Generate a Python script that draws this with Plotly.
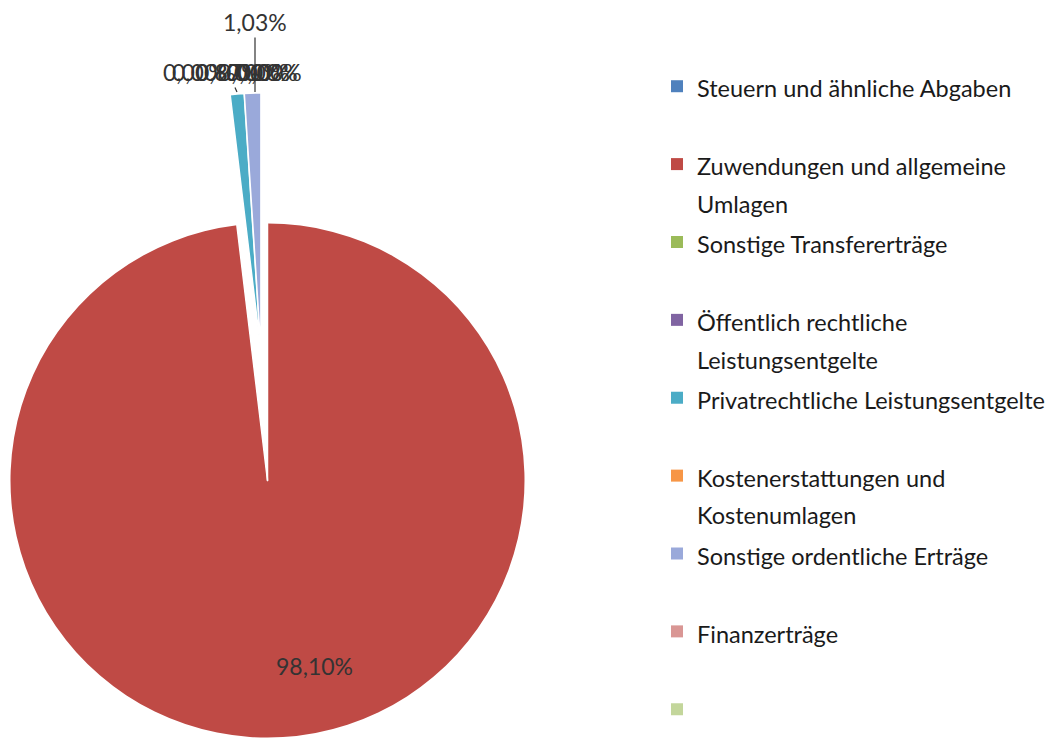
import plotly.graph_objects as go

W, H = 1054, 740

# ---- data ----
categories = [
    "Steuern und ähnliche Abgaben",
    "Zuwendungen und allgemeine Umlagen",
    "Sonstige Transfererträge",
    "Öffentlich rechtliche Leistungsentgelte",
    "Privatrechtliche Leistungsentgelte",
    "Kostenerstattungen und Kostenumlagen",
    "Sonstige ordentliche Erträge",
    "Finanzerträge",
    "",
]
shares = [0.00, 98.10, 0.00, 0.00, 0.87, 0.00, 1.03, 0.00, 0.00]

# ---- styles ----
colors = ["#4F81BD", "#BF4A45", "#9BBB59", "#8064A2", "#4BACC6",
          "#F79646", "#9AA9DA", "#D99694", "#C3D69B"]
exploded = [i for i, v in enumerate(shares) if 0 < v < 50]

FONT = "Lato"
TXT = 23.5           # legend glyph size
LBL = 23             # data label size
BASE = 28.8          # legend base size -> line pitch
line_breaks = {1: 3, 3: 2, 5: 2}   # break after n words


def px2paper_x(x):
    return x / W


def px2paper_y(y):
    return 1 - y / H


def span(t):
    return f"<span style='font-size:{TXT}px'>{t}</span>"


def legend_label(i):
    name = categories[i] if categories[i] else "\u00a0"
    words = name.split(" ")
    if i in line_breaks:
        k = line_breaks[i]
        lines = [" ".join(words[:k]), " ".join(words[k:])]
    elif i == len(categories) - 1:
        lines = [name]
    else:
        lines = [name, "\u00a0" * (i + 1)]
    return "<br>".join(span(l) for l in lines)


labels = [legend_label(i) for i in range(len(categories))]
total = sum(shares)
pct_text = [f"{v / total * 100:.2f}%".replace(".", ",") for v in shares]

# main pie geometry (pixels)
cx, cy, r = 267.5, 480.5, 257.0
main_dom_x = [px2paper_x(cx - r), px2paper_x(cx + r)]
main_dom_y = [px2paper_y(cy + r), px2paper_y(cy - r)]

# exploded slices layer
p3 = 0.01
ex_cx, ex_top = 261.0, 93.0
half = r * (1 + p3)
ex_cy = ex_top + half
ex_dom_x = [px2paper_x(ex_cx - half), px2paper_x(ex_cx + half)]
ex_dom_y = [px2paper_y(ex_cy + half), px2paper_y(ex_cy - half)]

clear = "rgba(0,0,0,0)"

fig = go.Figure()
# 1) main pie with true colours (drives the legend)
fig.add_trace(go.Pie(
    labels=labels, values=shares, sort=False, direction="clockwise",
    rotation=0, domain=dict(x=main_dom_x, y=main_dom_y),
    marker=dict(colors=colors, line=dict(width=0)),
    textinfo="none", hoverinfo="skip", showlegend=True,
))
# 2) mask: leaves the gap where exploded slices were
fig.add_trace(go.Pie(
    labels=labels, values=shares, sort=False, direction="clockwise",
    rotation=0, domain=dict(x=main_dom_x, y=main_dom_y),
    marker=dict(colors=["white" if i in exploded else clear for i in range(len(shares))],
                line=dict(color=["white" if i in exploded else clear for i in range(len(shares))],
                          width=1.5)),
    textinfo="none", hoverinfo="skip", showlegend=False,
))
# 3) exploded small slices
fig.add_trace(go.Pie(
    labels=labels, values=shares, sort=False, direction="clockwise",
    rotation=0, domain=dict(x=ex_dom_x, y=ex_dom_y),
    pull=[p3 if i in exploded else 0 for i in range(len(shares))],
    marker=dict(colors=[colors[i] if i in exploded else clear for i in range(len(shares))],
                line=dict(color=["white" if i in exploded else clear for i in range(len(shares))],
                          width=1.5)),
    textinfo="none", hoverinfo="skip", showlegend=False,
))

# data labels (positions in pixels)
label_pos = {
    1: (314, 666),
    0: (195, 72), 2: (204, 72), 3: (250, 72), 4: (228, 72),
    5: (258, 72), 7: (266, 72), 8: (270, 72),
    6: (255, 22),
}
arrow_to = {6: (255, 92), 4: (237, 92)}
for i, (x, y) in label_pos.items():
    ann = dict(text=pct_text[i], xref="paper", yref="paper",
               font=dict(family=FONT, size=LBL, color="#333333"),
               xanchor="center", yanchor="middle", showarrow=False)
    if i in arrow_to:
        tx, ty = arrow_to[i]
        ann.update(x=px2paper_x(tx), y=px2paper_y(ty), showarrow=True,
                   arrowhead=0, arrowwidth=1.2, arrowcolor="#333333",
                   ax=x - tx, ay=y - ty, standoff=0)
    else:
        ann.update(x=px2paper_x(x), y=px2paper_y(y))
    fig.add_annotation(**ann)

fig.update_layout(
    width=W, height=H,
    margin=dict(l=0, r=0, t=0, b=0),
    paper_bgcolor="white", plot_bgcolor="white",
    separators=",.",
    font=dict(family=FONT, color="#1a1a1a"),
    legend=dict(
        x=px2paper_x(657), xanchor="left",
        y=px2paper_y(61), yanchor="top",
        valign="top",
        font=dict(family=FONT, size=BASE, color="#1a1a1a"),
        bgcolor="rgba(0,0,0,0)", borderwidth=0,
        traceorder="normal",
    ),
)

fig.write_html("out.html", config={"displayModeBar": False},
               post_script="document.body.style.margin='0px';")
